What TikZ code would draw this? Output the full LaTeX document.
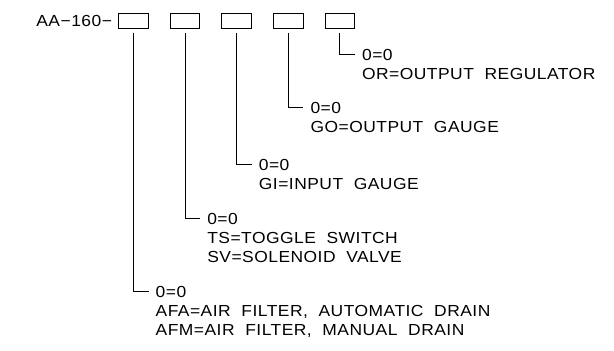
\documentclass[tikz,border=0pt]{standalone}
\usepackage{fontspec}
\setmainfont[FakeStretch=1.09,LetterSpace=3,WordSpace=2]{Liberation Sans}
\usetikzlibrary{
    positioning,
    calc
}

\begin{document}
\begin{tikzpicture}[
    x=1pt,
    y=-1pt,
    font=\fontsize{16}{19}\selectfont,
    slot/.style={
        rectangle,
        draw=black,
        line width=1pt,
        inner sep=0pt,
        minimum width=29.6pt,
        minimum height=15pt
    },
    lead/.style={
        draw=black,
        line width=1pt,
        shorten <=4pt
    },
    code/.style={
        anchor=west,
        inner xsep=7pt,
        inner ysep=0pt,
        text depth=0pt
    },
    entry/.style={
        align=left,
        inner xsep=7pt,
        inner ysep=0pt
    }
]

\useasboundingbox (0,0) rectangle (614,351);

% =====================================================
% Part number slots
% =====================================================

\node[slot] (s1) at (133.5,20.5) {};
\node[slot, right=21pt of s1] (s2) {};
\node[slot, right=21pt of s2] (s3) {};
\node[slot, right=21pt of s3] (s4) {};
\node[slot, right=21pt of s4] (s5) {};

\node[inner sep=0pt, left=6pt of s1] (prefix)
{AA−160−};

% =====================================================
% Option codes
% =====================================================

\node[code] (c5) at ($(s5.south)+(15,26)$) {0=0};
\node[entry, below=7.5pt of c5.south west, anchor=north west] (e5)
{OR=OUTPUT REGULATOR};

\node[code] (c4) at ($(s4.south)+(15,79)$) {0=0};
\node[entry, below=7.5pt of c4.south west, anchor=north west] (e4)
{GO=OUTPUT GAUGE};

\node[code] (c3) at ($(s3.south)+(15,136)$) {0=0};
\node[entry, below=7.5pt of c3.south west, anchor=north west] (e3)
{GI=INPUT GAUGE};

\node[code] (c2) at ($(s2.south)+(15,190)$) {0=0};
\node[entry, below=7.5pt of c2.south west, anchor=north west] (e2)
{TS=TOGGLE SWITCH\\SV=SOLENOID VALVE};

\node[code] (c1) at ($(s1.south)+(15,263)$) {0=0};
\node[entry, below=7.5pt of c1.south west, anchor=north west] (e1)
{AFA=AIR FILTER, AUTOMATIC DRAIN\\AFM=AIR FILTER, MANUAL DRAIN};

% =====================================================
% Leaders
% =====================================================

\draw[lead] (s1.south) |- (c1.west);
\draw[lead] (s2.south) |- (c2.west);
\draw[lead] (s3.south) |- (c3.west);
\draw[lead] (s4.south) |- (c4.west);
\draw[lead] (s5.south) |- (c5.west);

\end{tikzpicture}
\end{document}
